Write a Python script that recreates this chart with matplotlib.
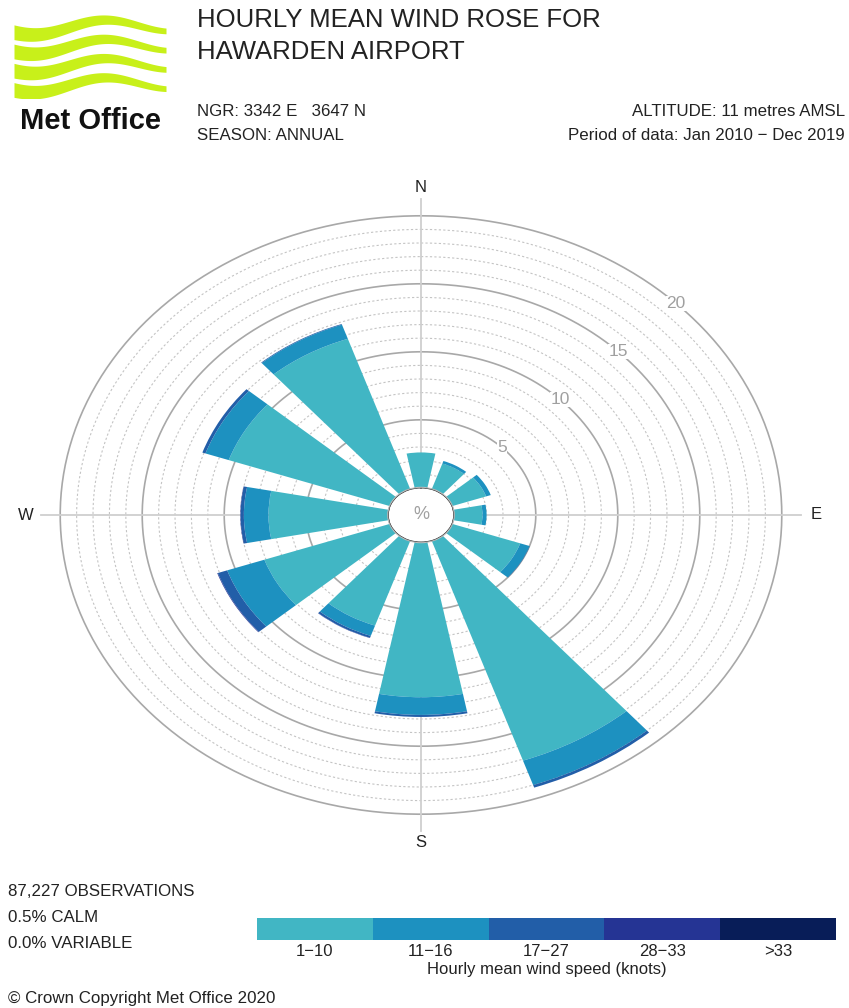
import matplotlib
matplotlib.use("Agg")
import matplotlib.pyplot as plt
import numpy as np
from matplotlib.patches import Ellipse

plt.rcParams['font.family'] = ['Liberation Sans', 'DejaVu Sans']

# wind directions (degrees from north) and % frequency by speed class
directions = [0, 30, 60, 90, 120, 150, 180, 210, 240, 270, 300, 330]
speed_1_10 = [2.6, 2.0, 2.2, 1.75, 4.4, 17.1, 11.4, 6.6, 8.1, 7.3, 10.4, 11.7]
speed_11_16 = [0.0, 0.2, 0.3, 0.25, 0.6, 1.9, 1.3, 0.8, 2.4, 1.5, 1.5, 1.1]
speed_17_27 = [0.0, 0.0, 0.0, 0.0, 0.02, 0.2, 0.15, 0.15, 0.6, 0.2, 0.2, 0.05]
speed_28_33 = [0.0, 0.0, 0.0, 0.0, 0.0, 0.0, 0.0, 0.02, 0.04, 0.02, 0.0, 0.0]
speed_gt33 = [0.0] * 12

speed_labels = ['1\u221210', '11\u221216', '17\u221227', '28\u221233', '>33']
speed_colors = ['#41b6c4', '#1d91c0', '#225ea8', '#253494', '#081d58']
ring_values = [5, 10, 15, 20]
compass = ['N', 'E', 'S', 'W']
compass_deg = [0, 90, 180, 270]

W, H = 849, 1008
fig = plt.figure(figsize=(W / 100, H / 100), dpi=100)
fig.patch.set_facecolor('white')


def px_axes(x, y, w, h, **kw):
    # pixel box (top-left origin) -> figure axes
    return fig.add_axes([x / W, 1 - (y + h) / H, w / W, h / H], **kw)


def ftext(x, y, s, **kw):
    fig.text(x / W, 1 - y / H, s, **kw)


txt = '#222222'

# ---- logo ----
lax = px_axes(14, 12, 152, 86)
xs = np.linspace(0, 1, 200)
lime = '#c8f01a'
for k in range(4):
    base = 0.76 - k * 0.235
    wave = 0.08 * np.sin(2 * np.pi * (xs * 1.1 + 0.6)) + 0.10 * xs
    thick = 0.18 - 0.11 * xs
    lax.fill_between(xs, base + wave, base + wave + thick, color=lime, lw=0)
lax.set_xlim(0, 1)
lax.set_ylim(0, 1.05)
lax.axis('off')
ftext(90, 121, 'Met Office', fontsize=21, fontweight='bold', color='#111111',
      ha='center', va='center')

# ---- header text ----
ftext(197, 20, 'HOURLY MEAN WIND ROSE FOR', fontsize=18.5, color=txt, va='center')
ftext(197, 52, 'HAWARDEN AIRPORT', fontsize=18.5, color=txt, va='center')
ftext(197, 112, 'NGR: 3342 E   3647 N', fontsize=12.2, color=txt, va='center')
ftext(197, 135, 'SEASON: ANNUAL', fontsize=12.2, color=txt, va='center')
ftext(845, 112, 'ALTITUDE: 11 metres AMSL', fontsize=12.2, color=txt, va='center', ha='right')
ftext(845, 135, 'Period of data: Jan 2010 \u2212 Dec 2019', fontsize=12.2, color=txt,
      va='center', ha='right')

# ---- wind rose ----
rmax = 23.0
rorig = 2.0
cx, cy = 421, 515
sx, sy = 16.4, 13.6
hw, hh = (rmax + rorig) * sx, (rmax + rorig) * sy
ax = px_axes(cx - hw, cy - hh, 2 * hw, 2 * hh, projection='polar')
ax.set_aspect('auto')
ax.set_theta_zero_location('N')
ax.set_theta_direction(-1)
ax.set_rorigin(-rorig)
ax.set_ylim(0, rmax)
ax.grid(False)
ax.set_xticks([])
ax.set_yticks([])
for s in ax.spines.values():
    s.set_visible(False)

th = np.linspace(0, 2 * np.pi, 400)
for r in range(1, 21):
    if r % 5 == 0:
        ax.plot(th, np.full_like(th, r), color='#a8a8a8', lw=1.2, zorder=1)
    else:
        ax.plot(th, np.full_like(th, r), color='#c4c4c4', lw=0.8, ls=(0, (2, 2)), zorder=1)
for d in compass_deg:
    t = np.deg2rad(d)
    ax.plot([t, t], [0, 21.2], color='#cfcfcf', lw=1.3, zorder=1)

theta = np.deg2rad(directions)
width = np.deg2rad(22)
bottom = np.zeros(len(directions))
for vals, col in zip([speed_1_10, speed_11_16, speed_17_27, speed_28_33, speed_gt33], speed_colors):
    vals = np.array(vals)
    ax.bar(theta, vals, width=width, bottom=bottom, color=col, lw=0, zorder=2)
    bottom = bottom + vals

for lab, d in zip(compass, compass_deg):
    ax.text(np.deg2rad(d), 22.1, lab, ha='center', va='center', fontsize=12, color=txt)
for r in ring_values:
    ax.text(np.deg2rad(45), r, str(r), ha='center', va='center', fontsize=12.5, color='#a0a0a0',
            bbox=dict(facecolor='white', edgecolor='none', pad=0.3), zorder=3)

hole = rorig / (rmax + rorig)
ax.add_patch(Ellipse((0.5, 0.5), hole, hole, transform=ax.transAxes, facecolor='white',
                     edgecolor='#c0c0c0', lw=1.5, zorder=4))
ax.text(0.5, 0.5, '%', transform=ax.transAxes, ha='center', va='center', fontsize=13,
        color='#a0a0a0', zorder=5)

# ---- footer ----
ftext(8, 892, '87,227 OBSERVATIONS', fontsize=12.2, color=txt, va='center')
ftext(8, 918, '0.5% CALM', fontsize=12.2, color=txt, va='center')
ftext(8, 943, '0.0% VARIABLE', fontsize=12.2, color=txt, va='center')
ftext(8, 998, '\u00a9 Crown Copyright Met Office 2020', fontsize=12.2, color=txt, va='center')

kax = px_axes(257, 918, 579, 22)
kax.bar(np.arange(5), np.ones(5), width=1.0, color=speed_colors, lw=0)
kax.set_xlim(-0.5, 4.5)
kax.set_ylim(0, 1)
kax.set_yticks([])
kax.set_xticks(np.arange(5))
kax.set_xticklabels(speed_labels, fontsize=12, color=txt)
kax.tick_params(axis='x', length=0, pad=3)
kax.set_xlabel('Hourly mean wind speed (knots)', fontsize=12, color=txt, labelpad=2)
for s in kax.spines.values():
    s.set_visible(False)

fig.savefig('out.png', dpi=100, facecolor='white')
